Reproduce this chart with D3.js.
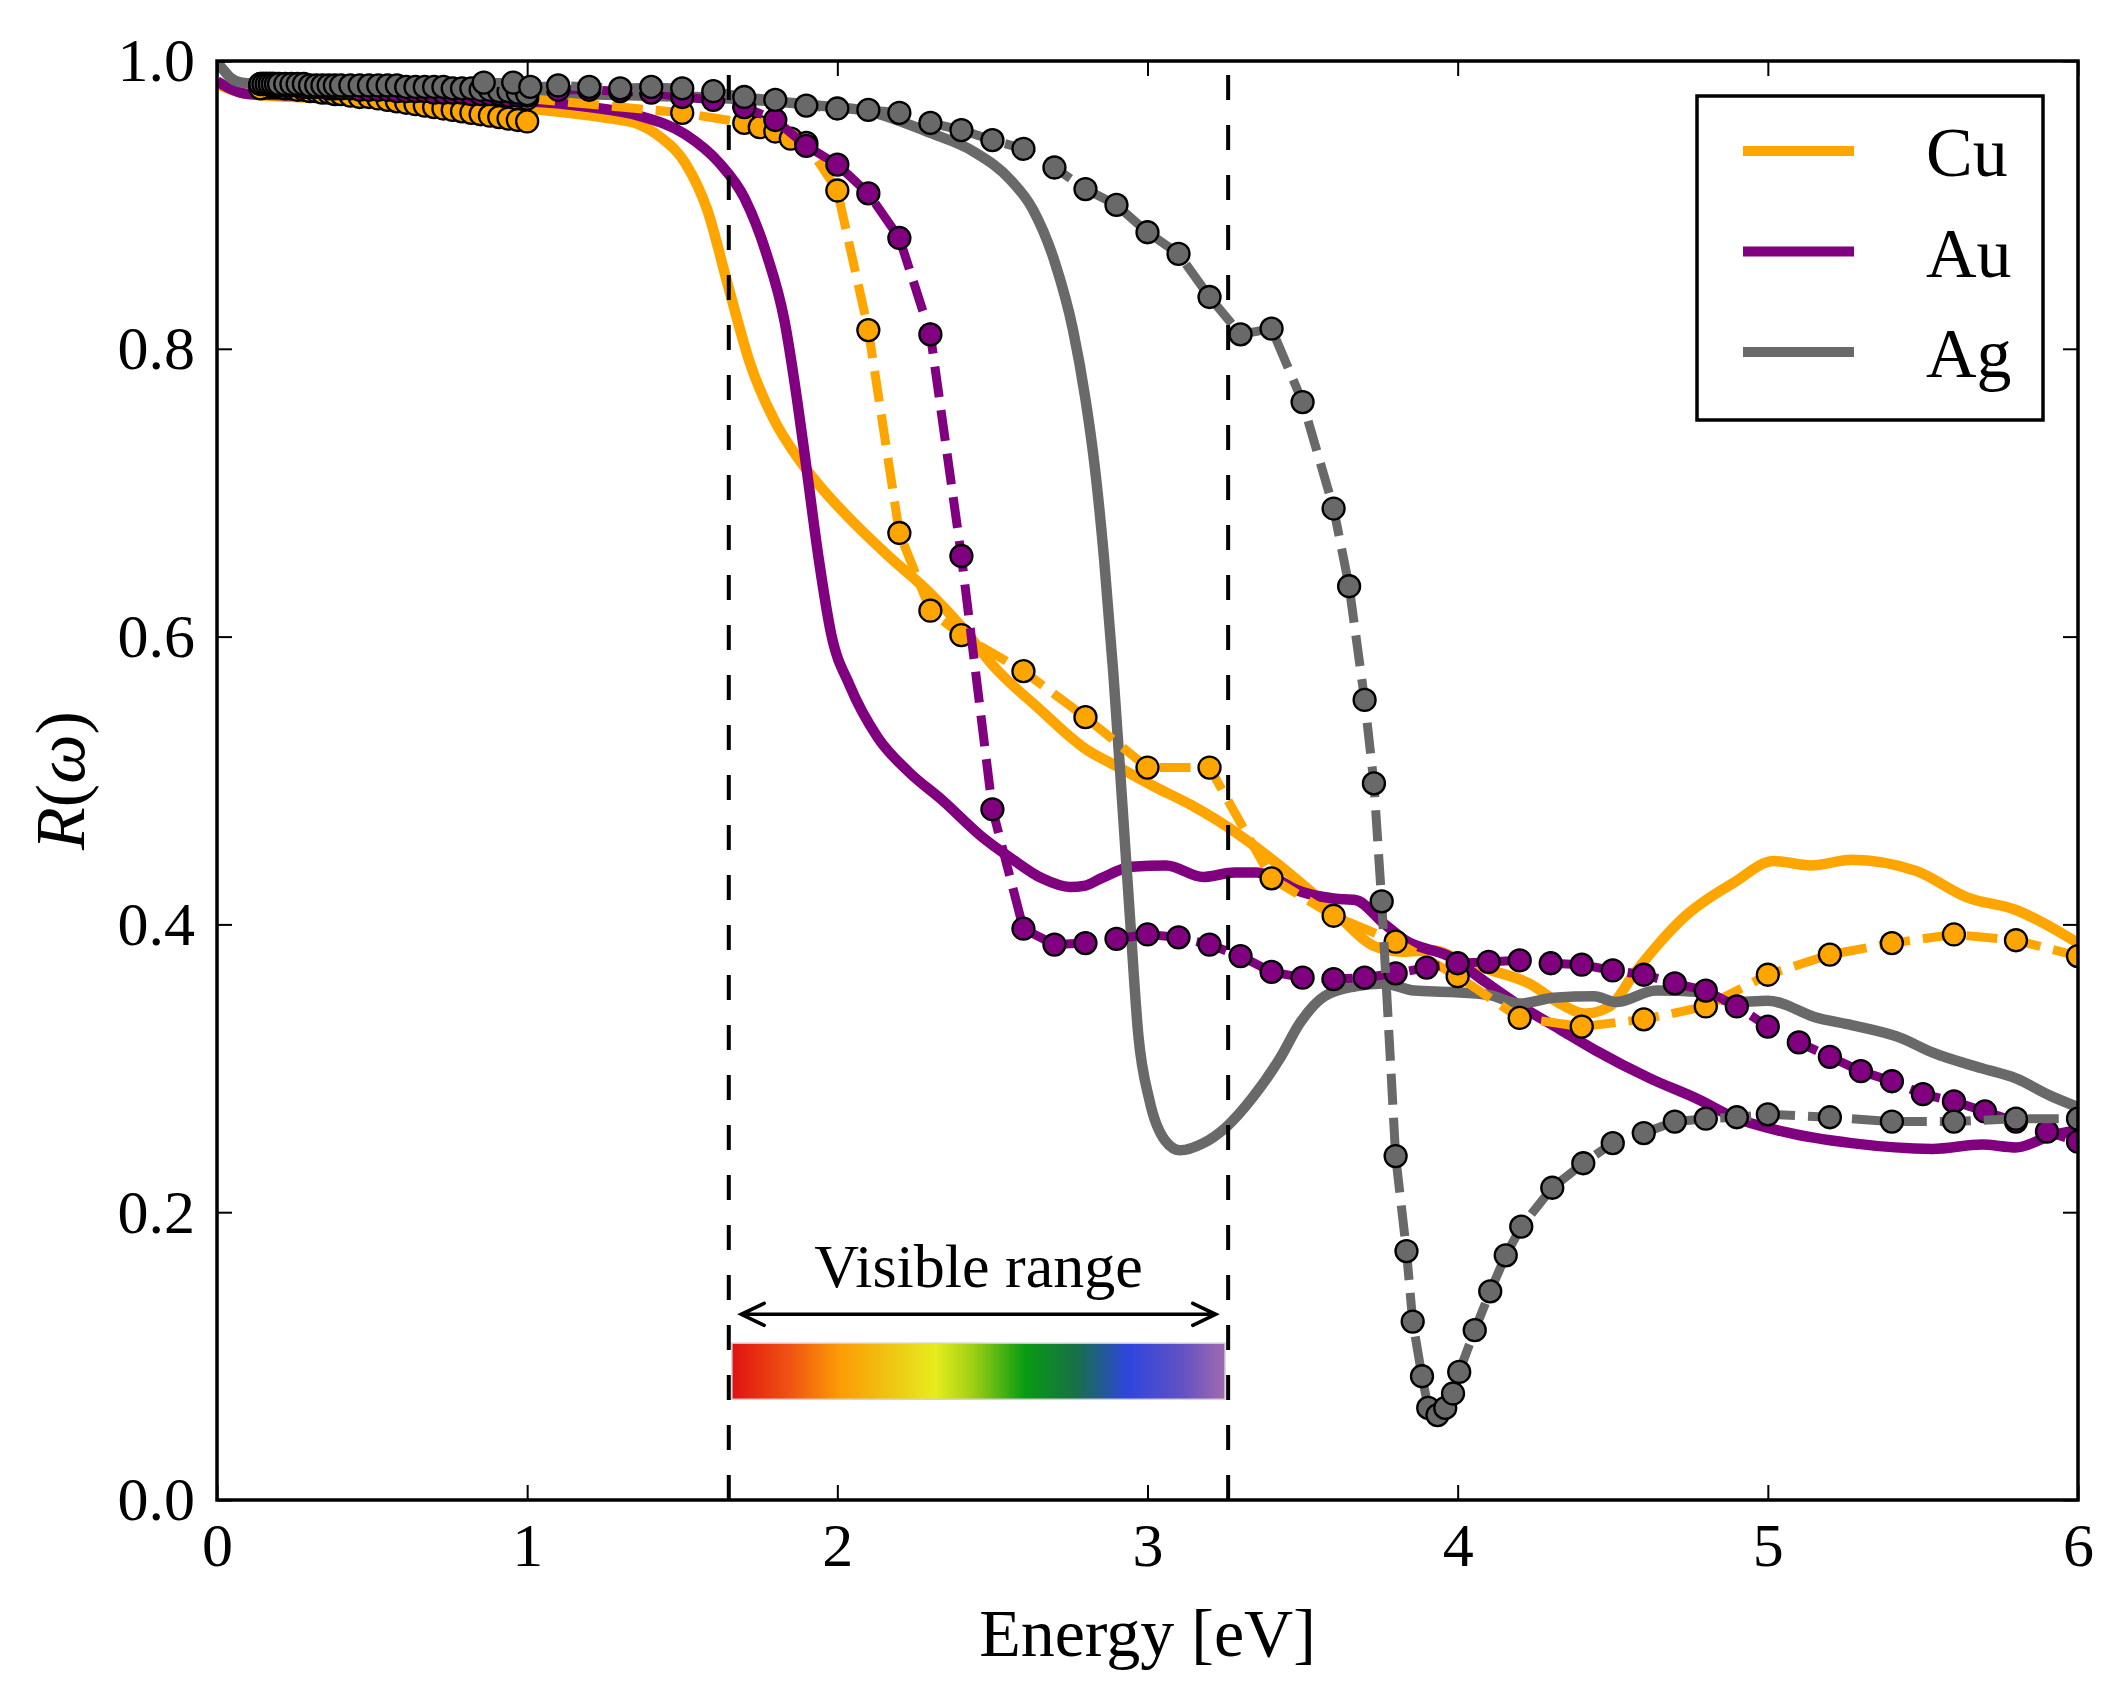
<!DOCTYPE html>
<html>
<head>
<meta charset="utf-8">
<script src="https://cdn.jsdelivr.net/npm/d3@7"></script>
<style>
	body { margin: 0; background: #fff; }
</style>
</head>
<body>
<div id="chart"></div>
<script>
// ---- model curves (solid), [energy eV, reflectance] ----
var cuTheory = [[0,0.984],[0.1,0.977],[0.5,0.973],[1.0,0.967],[1.24,0.961],[1.36,0.956],[1.43,0.947],[1.51,0.929],[1.58,0.897],[1.65,0.842],[1.72,0.789],[1.80,0.749],[1.87,0.725],[1.95,0.703],[2.04,0.682],[2.16,0.657],[2.30,0.630],[2.40,0.607],[2.51,0.578],[2.65,0.550],[2.80,0.522],[2.90,0.510],[3.02,0.496],[3.14,0.483],[3.27,0.466],[3.39,0.447],[3.52,0.424],[3.62,0.405],[3.73,0.385],[3.82,0.381],[3.92,0.382],[4.02,0.374],[4.11,0.368],[4.23,0.359],[4.33,0.345],[4.41,0.338],[4.49,0.343],[4.57,0.366],[4.65,0.387],[4.73,0.405],[4.89,0.429],[5.02,0.444],[5.14,0.441],[5.27,0.445],[5.48,0.437],[5.64,0.419],[5.80,0.410],[6.0,0.387]];
var auTheory = [[0,0.986],[0.05,0.980],[0.1,0.977],[0.5,0.975],[1.0,0.972],[1.2,0.968],[1.36,0.962],[1.51,0.949],[1.62,0.929],[1.70,0.905],[1.77,0.867],[1.83,0.819],[1.87,0.765],[1.90,0.718],[1.94,0.654],[1.98,0.602],[2.04,0.566],[2.13,0.530],[2.23,0.506],[2.34,0.486],[2.46,0.462],[2.56,0.446],[2.66,0.432],[2.75,0.426],[2.80,0.427],[2.85,0.432],[2.95,0.440],[3.06,0.441],[3.18,0.433],[3.28,0.436],[3.35,0.436],[3.42,0.431],[3.48,0.424],[3.60,0.418],[3.67,0.417],[3.76,0.401],[3.83,0.389],[3.98,0.377],[4.07,0.363],[4.19,0.345],[4.33,0.327],[4.44,0.313],[4.62,0.293],[4.78,0.278],[4.89,0.266],[5.05,0.256],[5.27,0.248],[5.53,0.244],[5.69,0.247],[5.80,0.245],[5.91,0.253],[6.0,0.257]];
var agTheory = [[0,0.999],[0.02,0.994],[0.04,0.989],[0.08,0.985],[0.15,0.984],[0.5,0.982],[1.0,0.978],[1.36,0.976],[1.65,0.974],[1.94,0.969],[2.10,0.965],[2.30,0.950],[2.44,0.937],[2.56,0.917],[2.63,0.897],[2.70,0.861],[2.76,0.813],[2.80,0.765],[2.83,0.718],[2.86,0.654],[2.89,0.574],[2.92,0.480],[2.945,0.400],[2.97,0.324],[3.006,0.278],[3.056,0.250],[3.105,0.243],[3.18,0.248],[3.253,0.259],[3.34,0.280],[3.43,0.308],[3.49,0.331],[3.57,0.350],[3.67,0.357],[3.76,0.359],[3.86,0.354],[3.98,0.353],[4.10,0.351],[4.20,0.345],[4.31,0.349],[4.44,0.350],[4.51,0.346],[4.64,0.354],[4.78,0.353],[4.89,0.346],[5.0,0.347],[5.16,0.335],[5.27,0.330],[5.43,0.321],[5.53,0.311],[5.69,0.300],[5.80,0.293],[5.91,0.281],[6.0,0.273]];

// ---- measured data (dashed + circles) ----
var cuData = [[0.14,0.981],[1.0,0.974],[1.5,0.964],[1.7,0.957],[1.75,0.954],[1.8,0.951],[1.85,0.946],[1.9,0.943],[2.0,0.910],[2.1,0.813],[2.2,0.672],[2.3,0.618],[2.4,0.601],[2.6,0.576],[2.8,0.544],[3.0,0.509],[3.2,0.509],[3.4,0.432],[3.6,0.406],[3.8,0.388],[4.0,0.364],[4.2,0.335],[4.4,0.329],[4.6,0.334],[4.8,0.343],[5.0,0.365],[5.2,0.379],[5.4,0.387],[5.6,0.393],[5.8,0.389],[6.0,0.378]];
var auData = [[1.1,0.980],[1.2,0.980],[1.3,0.979],[1.4,0.978],[1.5,0.975],[1.6,0.973],[1.7,0.968],[1.8,0.959],[1.9,0.941],[2.0,0.928],[2.1,0.908],[2.2,0.877],[2.3,0.810],[2.4,0.656],[2.5,0.480],[2.6,0.397],[2.7,0.386],[2.8,0.387],[2.9,0.390],[3.0,0.393],[3.1,0.391],[3.2,0.386],[3.3,0.378],[3.4,0.367],[3.5,0.363],[3.6,0.362],[3.7,0.363],[3.8,0.366],[3.9,0.370],[4.0,0.373],[4.1,0.374],[4.2,0.375],[4.3,0.373],[4.4,0.372],[4.5,0.368],[4.6,0.365],[4.7,0.359],[4.8,0.354],[4.9,0.343],[5.0,0.329],[5.1,0.318],[5.2,0.308],[5.3,0.298],[5.4,0.291],[5.5,0.282],[5.6,0.277],[5.7,0.270],[5.8,0.263],[5.9,0.256],[6.0,0.249]];
var agData = [[0.86,0.985],[0.955,0.985],[1.01,0.982],[1.1,0.983],[1.2,0.982],[1.3,0.981],[1.4,0.982],[1.5,0.981],[1.6,0.979],[1.7,0.975],[1.8,0.973],[1.9,0.969],[2.0,0.967],[2.1,0.966],[2.2,0.964],[2.3,0.957],[2.4,0.952],[2.5,0.945],[2.6,0.939],[2.7,0.926],[2.8,0.911],[2.9,0.900],[3.0,0.881],[3.1,0.866],[3.2,0.836],[3.3,0.810],[3.4,0.814],[3.5,0.763],[3.6,0.689],[3.65,0.635],[3.7,0.556],[3.73,0.498],[3.755,0.416],[3.80,0.239],[3.835,0.173],[3.855,0.124],[3.885,0.086],[3.905,0.064],[3.935,0.059],[3.96,0.064],[3.985,0.074],[4.005,0.089],[4.055,0.118],[4.105,0.145],[4.155,0.170],[4.205,0.190],[4.305,0.217],[4.405,0.234],[4.5,0.248],[4.6,0.255],[4.7,0.263],[4.8,0.265],[4.9,0.266],[5.0,0.268],[5.2,0.266],[5.4,0.263],[5.6,0.263],[5.8,0.265],[6.0,0.265]];

// ---- dense infrared data (circles only) ----
var irEnergy = [0.14,0.15,0.16,0.17,0.18,0.19,0.20,0.22,0.24,0.26,0.28,0.30,0.32,0.34,0.36,0.38,0.40,0.43,0.46,0.49,0.52,0.55,0.58,0.61,0.64,0.67,0.70,0.73,0.76,0.79,0.82,0.85,0.88,0.91,0.94,0.97,1.00];
var cuIR = [0.983,0.983,0.983,0.982,0.982,0.982,0.982,0.981,0.981,0.980,0.980,0.979,0.979,0.978,0.978,0.977,0.977,0.976,0.975,0.975,0.974,0.973,0.972,0.971,0.970,0.969,0.968,0.967,0.966,0.965,0.964,0.963,0.962,0.961,0.960,0.959,0.958];
var auIR = [0.984,0.984,0.984,0.984,0.984,0.983,0.983,0.983,0.983,0.983,0.982,0.982,0.982,0.982,0.981,0.981,0.981,0.981,0.980,0.980,0.980,0.980,0.979,0.979,0.979,0.979,0.978,0.978,0.978,0.978,0.977,0.977,0.977,0.977,0.976,0.976,0.976];
var agIR = [0.984,0.984,0.984,0.984,0.984,0.984,0.984,0.984,0.984,0.984,0.984,0.983,0.983,0.983,0.983,0.983,0.983,0.983,0.983,0.983,0.983,0.983,0.983,0.982,0.982,0.982,0.982,0.982,0.981,0.981,0.981,0.980,0.980,0.979,0.979,0.978,0.977];

// ---- annotation values ----
var visibleRange = [1.65, 3.26];          // dashed verticals, eV
var arrowSpan = [1.69, 3.22];             // double arrow, eV
var arrowLevel = 0.129;
var labelPos = [2.455, 0.148];
var spectrumBox = [1.66, 3.25, 0.070, 0.109];
var spectrumStops = [[0,"#e01212"],[0.116,"#ef5212"],[0.217,"#fd9a05"],[0.319,"#efc412"],[0.413,"#e6ec1e"],[0.486,"#a2d014"],[0.594,"#089c12"],[0.696,"#177046"],[0.804,"#2f45de"],[0.913,"#6252c4"],[1,"#a06aae"]];

var metals = ["Cu", "Au", "Ag"];
var colors = {Cu: "#ffa500", Au: "#800080", Ag: "#696969"};
var xTicks = [0, 1, 2, 3, 4, 5, 6];
var yTicks = [0, 0.2, 0.4, 0.6, 0.8, 1.0];

var SERIF = "'Liberation Serif', 'DejaVu Serif', serif";

function drawChart()
{
	var width = 2125, height = 1699;
	var plot = {left: 217, right: 2078, top: 61, bottom: 1500};

	var svg = d3.select("#chart").append("svg")
		.attr("width", width)
		.attr("height", height)
		.style("background", "#fff");

	var x = d3.scaleLinear().domain([0, 6]).range([plot.left, plot.right]);
	var y = d3.scaleLinear().domain([0, 1]).range([plot.bottom, plot.top]);

	var defs = svg.append("defs");
	defs.append("clipPath").attr("id", "plotClip")
		.append("rect")
		.attr("x", plot.left).attr("y", plot.top)
		.attr("width", plot.right - plot.left)
		.attr("height", plot.bottom - plot.top);

	var grad = defs.append("linearGradient").attr("id", "spectrum")
		.attr("x1", "0%").attr("x2", "100%").attr("y1", "0%").attr("y2", "0%");
	spectrumStops.forEach(function(s) {
		grad.append("stop").attr("offset", s[0]).attr("stop-color", s[1]);
	});

	var layer = svg.append("g").attr("clip-path", "url(#plotClip)");

	var solidLine = d3.line()
		.x(function(d) { return x(d[0]); })
		.y(function(d) { return y(d[1]); })
		.curve(d3.curveMonotoneX);
	var dataLine = d3.line()
		.x(function(d) { return x(d[0]); })
		.y(function(d) { return y(d[1]); });

	var theory = {Cu: cuTheory, Au: auTheory, Ag: agTheory};
	var measured = {Cu: cuData, Au: auData, Ag: agData};
	var infrared = {Cu: cuIR, Au: auIR, Ag: agIR};

	// model curves first
	metals.forEach(function(m) {
		layer.append("path")
			.datum(theory[m])
			.attr("d", solidLine)
			.attr("fill", "none")
			.attr("stroke", colors[m])
			.attr("stroke-width", 10.5)
			.attr("stroke-linejoin", "round");
	});

	// then measured points, metal by metal
	function dots(g, data, m) {
		g.selectAll("circle")
			.data(data).enter().append("circle")
			.attr("cx", function(d) { return x(d[0]); })
			.attr("cy", function(d) { return y(d[1]); })
			.attr("r", 11)
			.attr("fill", colors[m])
			.attr("stroke", "#000")
			.attr("stroke-width", 2.3);
	}

	metals.forEach(function(m) {
		dots(layer.append("g"), d3.zip(irEnergy, infrared[m]), m);

		layer.append("path")
			.datum(measured[m])
			.attr("d", dataLine)
			.attr("fill", "none")
			.attr("stroke", colors[m])
			.attr("stroke-width", 9)
			.attr("stroke-dasharray", "31,13");

		dots(layer.append("g"), measured[m], m);
	});

	// visible range markers
	visibleRange.forEach(function(e) {
		layer.append("path")
			.attr("d", "M" + x(e) + "," + y(0) + "L" + x(e) + "," + y(1))
			.attr("stroke", "#000")
			.attr("stroke-width", 4)
			.attr("stroke-dasharray", "25,25");
	});

	layer.append("rect")
		.attr("x", x(spectrumBox[0]))
		.attr("y", y(spectrumBox[3]))
		.attr("width", x(spectrumBox[1]) - x(spectrumBox[0]))
		.attr("height", y(spectrumBox[2]) - y(spectrumBox[3]))
		.attr("fill", "url(#spectrum)")
		.attr("stroke", "#d8d0d8")
		.attr("stroke-width", 1.5);

	var ax0 = x(arrowSpan[0]), ax1 = x(arrowSpan[1]), ay = y(arrowLevel);
	var head = 23, half = 11;
	layer.append("path")
		.attr("d", "M" + ax0 + "," + ay + "L" + ax1 + "," + ay +
			"M" + (ax0 + head) + "," + (ay - half) + "L" + ax0 + "," + ay + "L" + (ax0 + head) + "," + (ay + half) +
			"M" + (ax1 - head) + "," + (ay - half) + "L" + ax1 + "," + ay + "L" + (ax1 - head) + "," + (ay + half))
		.attr("fill", "none")
		.attr("stroke", "#000")
		.attr("stroke-width", 3.5)
		.attr("stroke-linecap", "round")
		.attr("stroke-linejoin", "miter");

	svg.append("text")
		.attr("x", x(labelPos[0]))
		.attr("y", y(labelPos[1]))
		.attr("text-anchor", "middle")
		.attr("font-family", SERIF)
		.attr("font-size", 62)
		.text("Visible range");

	// axes, ticks inside on all four sides
	function styleAxis(g) {
		g.select(".domain").remove();
		g.selectAll(".tick line").attr("stroke", "#000").attr("stroke-width", 2);
		g.selectAll(".tick text")
			.attr("font-family", SERIF)
			.attr("font-size", 62)
			.attr("fill", "#000");
	}

	svg.append("g")
		.attr("transform", "translate(0," + plot.bottom + ")")
		.call(d3.axisBottom(x).tickValues(xTicks).tickSize(-15).tickPadding(22).tickFormat(d3.format("d")))
		.call(styleAxis);
	svg.append("g")
		.attr("transform", "translate(0," + plot.top + ")")
		.call(d3.axisTop(x).tickValues(xTicks).tickSize(-15).tickFormat(""))
		.call(styleAxis);
	svg.append("g")
		.attr("transform", "translate(" + plot.left + ",0)")
		.call(d3.axisLeft(y).tickValues(yTicks).tickSize(-15).tickPadding(22).tickFormat(d3.format(".1f")))
		.call(styleAxis);
	svg.append("g")
		.attr("transform", "translate(" + plot.right + ",0)")
		.call(d3.axisRight(y).tickValues(yTicks).tickSize(-15).tickFormat(""))
		.call(styleAxis);

	svg.append("rect")
		.attr("x", plot.left).attr("y", plot.top)
		.attr("width", plot.right - plot.left)
		.attr("height", plot.bottom - plot.top)
		.attr("fill", "none")
		.attr("stroke", "#000")
		.attr("stroke-width", 3.5);

	// axis titles
	svg.append("text")
		.attr("x", (plot.left + plot.right) / 2)
		.attr("y", 1656)
		.attr("text-anchor", "middle")
		.attr("font-family", SERIF)
		.attr("font-size", 68)
		.text("Energy [eV]");

	var yl = svg.append("text")
		.attr("transform", "translate(84," + ((plot.top + plot.bottom) / 2) + ") rotate(-90)")
		.attr("text-anchor", "middle")
		.attr("font-family", SERIF)
		.attr("font-size", 70);
	yl.append("tspan").attr("font-style", "italic").text("R");
	yl.append("tspan").text("(");
	yl.append("tspan").attr("font-style", "italic").text("ω");
	yl.append("tspan").text(")");

	// legend
	var lg = {right: plot.right - 35, top: plot.top + 35, width: 346, height: 324};
	var lgLeft = lg.right - lg.width;
	svg.append("rect")
		.attr("x", lgLeft).attr("y", lg.top)
		.attr("width", lg.width).attr("height", lg.height)
		.attr("fill", "#fff")
		.attr("stroke", "#000")
		.attr("stroke-width", 3.5);
	metals.forEach(function(m, i) {
		var ly = lg.top + 55 + i * 100.5;
		svg.append("line")
			.attr("x1", lgLeft + 46).attr("x2", lgLeft + 157)
			.attr("y1", ly).attr("y2", ly)
			.attr("stroke", colors[m])
			.attr("stroke-width", 10);
		svg.append("text")
			.attr("x", lgLeft + 229)
			.attr("y", ly + 25)
			.attr("font-family", SERIF)
			.attr("font-size", 70)
			.text(m);
	});
}

drawChart();
</script>
</body>
</html>
